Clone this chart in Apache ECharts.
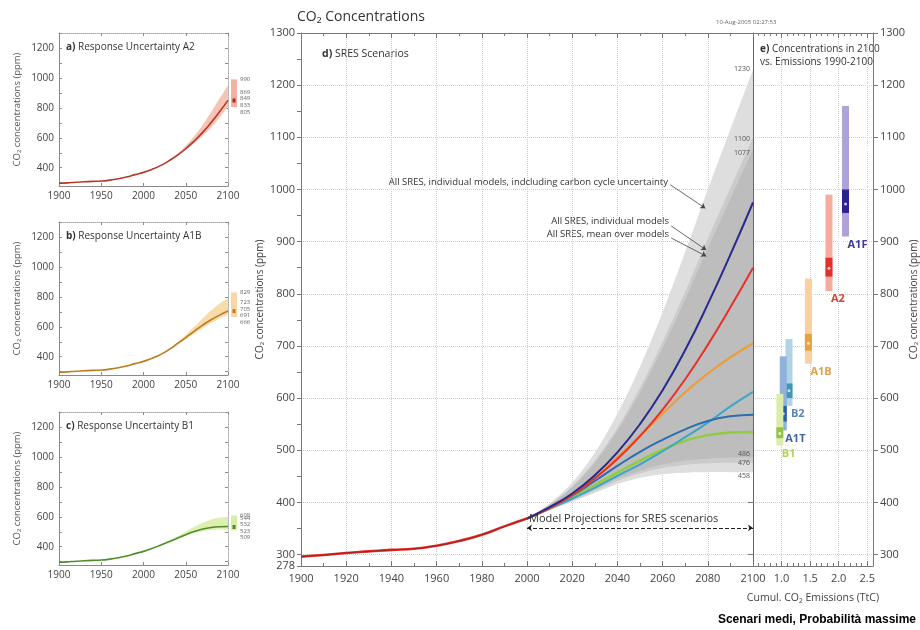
<!DOCTYPE html>
<html><head><meta charset="utf-8">
<script src="https://cdn.jsdelivr.net/npm/echarts@6/dist/echarts.min.js"></script>
<style>html,body{margin:0;padding:0;background:#fff}#c{width:920px;height:630px}</style>
</head><body><div id="c"></div>
<script>
// ---------------- DATA ----------------
const histYears = [1900,1910,1920,1930,1940,1950,1960,1970,1980,1990,2000];
const histCO2   = [296,299,303,306,309,311,317,326,338,354,369];
const projYears = [2000,2010,2020,2030,2040,2050,2060,2070,2080,2090,2100];
const A1F = [369,391,417,452,496,550,615,692,780,875,975];
const A2  = [369,389,414,446,483,527,578,636,702,774,850];
const A1B = [369,390,414,447,487,528,570,611,647,678,705];
const A1T = [369,390,413,441,470,497,520,540,556,565,568];
const B2  = [369,388,407,428,451,473,498,525,553,584,612];
const B1  = [369,388,410,433,457,480,501,518,529,534,535];
// envelopes (main panel)
const outerHi = [369,398,438,495,570,660,765,880,1000,1115,1230];
const midHi   = [369,396,431,480,543,620,708,804,906,1003,1100];
const innerHi = [369,395,429,476,537,611,696,789,887,982,1077];
const innerLo = [369,387,405,425,445,461,473,480,484,486,486];
const midLo   = [369,386,403,422,441,456,466,472,475,476,476];
const outerLo = [369,385,401,418,435,447,454,457,458,458,458];
const envTopLabels = ['1230','1100','1077'];
const envTopValues = [1230,1100,1077];
const envBotLabels = ['486','476','458'];
const envBotValues = [486,476,458];
// response uncertainty bands (left panels)
const aHi = [369,391,417,451,494,547,611,686,772,862,950];
const aLo = [369,388,412,442,478,518,562,612,668,735,810];
const bHi = [369,391,417,452,495,545,600,655,710,755,790];
const bLo = [369,388,411,441,478,516,553,590,625,655,680];
const cHi = [369,390,414,441,470,502,533,560,582,595,600];
const cLo = [369,387,408,430,452,473,490,503,511,515,515];
// 2100 ranges in left panels: [hi, upper-mid, mid, lower-mid, lo]
const aRange = [990,869,849,833,805];
const bRange = [829,723,705,691,666];
const cRange = [608,544,532,523,509];
// panel e: concentration in 2100 vs cumulative emissions
const eNames = ['A1F','A2','A1B','B2','A1T','B1'];
const eEmis  = [2.12,1.83,1.47,1.13,1.03,0.97];
const eLo    = [910,805,666,585,538,509];
const eHi    = [1160,990,829,713,680,608];
const eDLo   = [955,833,691,600,555,523];
const eDHi   = [1000,869,723,628,585,544];
const eMid   = [972,849,705,614,570,532];
const eCircX = [2.48,2.28,2.08,2.03,1.92,1.75,1.70,1.68,1.65,1.63,1.57,1.55,1.33,1.32,1.32,1.28,0.83,0.77];
const eCircY = [1078,1022,957,903,867,820,809,805,784,776,748,731,686,680,667,657,506,485];
// tick labels
const mainYLabels = [278,300,400,500,600,700,800,900,1000,1100,1200,1300];
const mainYTicks  = [278,300,350,400,450,500,550,600,650,700,750,800,850,900,950,1000,1050,1100,1150,1200,1250,1300];
const gridYVals   = [300,400,500,600,700,800,900,1000,1100,1200,1300];
const eYLabels    = [300,400,500,600,700,800,900,1000,1100,1200,1300];
const smallYLabels= [400,600,800,1000,1200];
const smallYTicks = [300,400,500,600,700,800,900,1000,1100,1200,1300];

// ---------------- COLORS / STYLE ----------------
const F = "'Open Sans', 'Noto Sans', sans-serif";
const AX = '#8a8a8a';
const colors = {A1F:'#2a2a8e', A2:'#e8302a', A1B:'#f39a2e', A1T:'#2e6db0', B2:'#3ba6c9', B1:'#8fcd3e', hist:'#e0302a'};
const eLight = ['#aea3d8','#f6ab9d','#f9d09e','#b0d3e6','#90b2da','#dcedab'];
const eDark  = ['#2c2290','#e0312b','#ec9f3a','#3f96b8','#2c5fa8','#94c445'];
const eLab   = ['#3d3a9a','#d0473a','#e3a04a','#5d86b5','#3f64a3','#b3d05a'];

const fullYears = histYears.concat(projYears.slice(1));
const full = arr => histCO2.concat(arr.slice(1));
const fmtInt = v => String(v);

// ---------------- AXES ----------------
const grids = [
  {left:59, top:33, width:169, height:153},
  {left:59, top:222, width:169, height:153},
  {left:59, top:412, width:169, height:153},
  {left:301, top:33, width:452, height:533},
  {left:753, top:33, width:126, height:533}
];
const xAxis = [], yAxis = [];
for (let g=0; g<3; g++) {
  xAxis.push({type:'value', gridIndex:g, min:1900, max:2100, interval:50,
    axisLine:{lineStyle:{color:AX}}, axisTick:{inside:true,length:3,lineStyle:{color:AX}},
    axisLabel:{fontSize:10,color:'#444',fontFamily:F,margin:5,formatter:fmtInt}, splitLine:{show:false}});
}
for (let g=0; g<3; g++) {
  xAxis.push({type:'value', gridIndex:g, position:'top', min:1900, max:2100, interval:50,
    axisLine:{lineStyle:{color:'#aaa',type:'dotted'}}, axisTick:{inside:true,length:3,lineStyle:{color:AX}},
    axisLabel:{show:false}, splitLine:{show:false}});
}
// main d
xAxis.push({type:'value', gridIndex:3, min:1900, max:2100, interval:20,
  axisLine:{lineStyle:{color:'#777'}}, axisTick:{inside:true,length:5,lineStyle:{color:'#777'}},
  minorTick:{show:true,splitNumber:2,length:3,lineStyle:{color:'#777'}},
  axisLabel:{fontSize:11,color:'#444',fontFamily:F,margin:7,formatter:fmtInt},
  splitLine:{show:true,lineStyle:{color:'#cfcfcf',type:'dotted'}}});
xAxis.push({type:'value', gridIndex:3, position:'top', min:1900, max:2100, interval:20,
  axisLine:{lineStyle:{color:'#777'}}, axisTick:{inside:true,length:5,lineStyle:{color:'#777'}},
  minorTick:{show:true,splitNumber:2,length:3,lineStyle:{color:'#777'}},
  axisLabel:{show:false}, splitLine:{show:false}});
// panel e
xAxis.push({type:'value', gridIndex:4, min:0.5, max:2.6, interval:0.5,
  name:'Cumul. CO₂ Emissions (TtC)', nameLocation:'middle', nameGap:27,
  nameTextStyle:{fontSize:10.5,color:'#444',fontFamily:F},
  axisLine:{lineStyle:{color:'#777'}}, axisTick:{inside:true,length:5,lineStyle:{color:'#777'}},
  minorTick:{show:true,splitNumber:5,length:3,lineStyle:{color:'#777'}},
  axisLabel:{fontSize:11,color:'#444',fontFamily:F,margin:7,showMinLabel:false,showMaxLabel:false,formatter:v=>v.toFixed(1)},
  splitLine:{show:true,lineStyle:{color:'#cfcfcf',type:'dotted'}}});
xAxis.push({type:'value', gridIndex:4, position:'top', min:0.5, max:2.6, interval:0.5,
  axisLine:{lineStyle:{color:'#777'}}, axisTick:{inside:true,length:5,lineStyle:{color:'#777'}},
  minorTick:{show:true,splitNumber:5,length:3,lineStyle:{color:'#777'}},
  axisLabel:{show:false}, splitLine:{show:false}});

for (let g=0; g<3; g++) {
  yAxis.push({type:'value', gridIndex:g, min:278, max:1300, position:'left',
    name:'CO₂ concentrations (ppm)', nameLocation:'middle', nameGap:37,
    nameTextStyle:{fontSize:9.5,color:'#555',fontFamily:F},
    axisLine:{show:true,lineStyle:{color:AX}},
    axisTick:{show:true,inside:true,length:3,customValues:smallYTicks,lineStyle:{color:AX}},
    axisLabel:{customValues:smallYLabels,fontSize:10,color:'#444',fontFamily:F,margin:5,formatter:fmtInt},
    splitLine:{show:false}});
}
for (let g=0; g<3; g++) {
  yAxis.push({type:'value', gridIndex:g, min:278, max:1300, position:'right',
    axisLine:{show:true,lineStyle:{color:'#aaa',type:'dotted'}},
    axisTick:{show:true,inside:true,length:3,customValues:smallYTicks,lineStyle:{color:AX}},
    axisLabel:{show:false}, splitLine:{show:false}});
}
yAxis.push({type:'value', gridIndex:3, min:278, max:1300, position:'left',
  name:'CO₂ concentrations (ppm)', nameLocation:'middle', nameGap:36,
  nameTextStyle:{fontSize:10,color:'#444',fontFamily:F},
  axisLine:{show:true,lineStyle:{color:'#777'}},
  axisTick:{show:true,inside:false,length:4,customValues:mainYTicks,lineStyle:{color:'#777'}},
  axisLabel:{customValues:mainYLabels,fontSize:11,color:'#444',fontFamily:F,margin:6,formatter:fmtInt},
  splitLine:{show:false}});
yAxis.push({type:'value', gridIndex:3, min:278, max:1300, position:'right',
  axisLine:{show:true,lineStyle:{color:'#666'}},
  axisTick:{show:true,inside:true,length:5,customValues:gridYVals,lineStyle:{color:'#777'}},
  axisLabel:{show:false},
  splitLine:{show:true,lineStyle:{color:'#cfcfcf',type:'dotted'}}});
yAxis.push({type:'value', gridIndex:4, min:278, max:1300, position:'right',
  name:'CO₂ concentrations (ppm)', nameLocation:'middle', nameGap:30, nameRotate:90,
  nameTextStyle:{fontSize:10,color:'#444',fontFamily:F},
  axisLine:{show:true,lineStyle:{color:'#777'}},
  axisTick:{show:true,inside:false,length:5,customValues:gridYVals,lineStyle:{color:'#777'}},
  axisLabel:{customValues:eYLabels,fontSize:11,color:'#444',fontFamily:F,margin:7,formatter:fmtInt},
  splitLine:{show:true,lineStyle:{color:'#cfcfcf',type:'dotted'}}});

const Y_MAIN = 6, Y_E = 8, X_MAIN = 6, X_E = 8;

// ---------------- SERIES ----------------
const series = [];
// Catmull-Rom smoothing in pixel space (rendering only)
function crSample(pts, steps) {
  const out = [];
  const n = pts.length;
  for (let i = 0; i < n - 1; i++) {
    const p0 = pts[Math.max(i-1,0)], p1 = pts[i], p2 = pts[i+1], p3 = pts[Math.min(i+2,n-1)];
    for (let s = 0; s < steps; s++) {
      const t = s/steps, t2 = t*t, t3 = t2*t;
      const f = k => 0.5*((2*p1[k]) + (-p0[k]+p2[k])*t + (2*p0[k]-5*p1[k]+4*p2[k]-p3[k])*t2 + (-p0[k]+3*p1[k]-3*p2[k]+p3[k])*t3);
      out.push([f(0), f(1)]);
    }
  }
  out.push(pts[n-1]);
  return out;
}
function band(xi, yi, xs, lo, hi, color, z) {
  series.push({type:'custom', xAxisIndex:xi, yAxisIndex:yi, silent:true, z:z||1,
    data: xs.map((x,i)=>[x, lo[i], hi[i]]), encode:{x:0, y:[1,2]},
    renderItem:function(params, api){
      if (params.dataIndex !== 0) return null;
      const up = crSample(xs.map((x,i)=>api.coord([x, hi[i]])), 8);
      const dn = crSample(xs.map((x,i)=>api.coord([x, lo[i]])), 8).reverse();
      return {type:'polygon', shape:{points: up.concat(dn)}, style:{fill:color}};
    }});
}
function line(xi, yi, xs, ys, color, width, z) {
  series.push({type:'line', xAxisIndex:xi, yAxisIndex:yi, silent:true, smooth:0.5, symbol:'none',
    data: xs.map((x,i)=>[x, ys[i]]), lineStyle:{color:color,width:width}, z:z||3});
}
function sideBar(xi, yi, rng, light, dark) {
  series.push({type:'custom', xAxisIndex:xi, yAxisIndex:yi, clip:false, silent:true, z:5,
    data:[[2100, rng[4], rng[0], rng[2]]],
    encode:{x:0, y:[1,2]},
    renderItem:function(params, api){
      const pHi = api.coord([2100, rng[0]]), pLo = api.coord([2100, rng[4]]), pM = api.coord([2100, rng[2]]);
      const x = pHi[0] + 3;
      const ch = [
        {type:'rect', shape:{x:x, y:pHi[1], width:6, height:pLo[1]-pHi[1]}, style:{fill:light}},
        {type:'rect', shape:{x:x+1.5, y:pM[1]-2, width:3, height:4}, style:{fill:dark}}
      ];
      const ys = rng.map(v => api.coord([2100, v])[1]);
      const cl = ys.slice(1); const mean = cl.reduce((a,b)=>a+b,0)/cl.length;
      const pos = [ys[0]].concat(cl.map((_,k)=> mean + (k-(cl.length-1)/2)*6.6));
      rng.forEach((v,k)=>{
        ch.push({type:'text', style:{text:String(v), x:x+9, y:pos[k], fill:'#666', fontSize:6, fontFamily:F, align:'left', verticalAlign:'middle'}});
      });
      return {type:'group', children:ch};
    }});
}

// left panels
band(0,0,projYears,aLo,aHi,'#f7c3b5');
line(0,0,fullYears,full(A2),'#b5392b',1.6);
sideBar(0,0,aRange,'#f5b0a2','#b5261c');
band(1,1,projYears,bLo,bHi,'#f8dbab');
line(1,1,fullYears,full(A1B),'#b97d1f',1.6);
sideBar(1,1,bRange,'#f9d6a3','#c67a12');
band(2,2,projYears,cLo,cHi,'#ddf0b2');
line(2,2,fullYears,full(B1),'#4f8c2b',1.6);
sideBar(2,2,cRange,'#d7eca6','#4f8c2b');

// main envelope
band(X_MAIN,Y_MAIN,projYears,outerLo,outerHi,'#dedede',1);
band(X_MAIN,Y_MAIN,projYears,midLo,midHi,'#cbcbcb',1);
band(X_MAIN,Y_MAIN,projYears,innerLo,innerHi,'#bdbdbd',1);
// historical
line(X_MAIN,Y_MAIN,histYears,histCO2,colors.hist,2.6,4);
line(X_MAIN,Y_MAIN,histYears,histCO2,'#8e1b17',0.8,5);
// scenarios
line(X_MAIN,Y_MAIN,projYears,B1,colors.B1,2.4,4);
line(X_MAIN,Y_MAIN,projYears,B2,colors.B2,2,4);
line(X_MAIN,Y_MAIN,projYears,A1T,colors.A1T,2,4);
line(X_MAIN,Y_MAIN,projYears,A1B,colors.A1B,2,4);
line(X_MAIN,Y_MAIN,projYears,A2,colors.A2,2,4);
line(X_MAIN,Y_MAIN,projYears,A1F,colors.A1F,2,4);

// annotations in main panel
series.push({type:'line', xAxisIndex:X_MAIN, yAxisIndex:Y_MAIN, data:[], silent:true, z:6,
  markLine:{silent:true, symbol:['none','arrow'], symbolSize:5, animation:false,
    lineStyle:{color:'#444',width:0.8,type:'solid'}, label:{show:false},
    data:[
      [{coord:[2063.4,1009]},{coord:[2078.9,964]}],
      [{coord:[2063.8,930]},{coord:[2079.3,884]}],
      [{coord:[2063.8,907]},{coord:[2079.3,872]}],
      [{coord:[2000,351], symbol:'arrow', lineStyle:{type:'dashed',color:'#222',width:1}},
       {coord:[2100,351], symbol:'arrow'}]
    ]}});

// panel e bars
series.push({type:'custom', xAxisIndex:X_E, yAxisIndex:Y_E, silent:true, z:5, clip:false,
  data: eNames.map((n,i)=>[eEmis[i], eLo[i], eHi[i], eDLo[i], eDHi[i], eMid[i]]),
  encode:{x:0, y:[1,2]},
  renderItem:function(params, api){
    const i = params.dataIndex;
    const xv = api.value(0);
    const pHi = api.coord([xv, api.value(2)]), pLo = api.coord([xv, api.value(1)]);
    const dHi = api.coord([xv, api.value(4)]), dLo = api.coord([xv, api.value(3)]);
    const pM = api.coord([xv, api.value(5)]);
    const w = 7;
    return {type:'group', children:[
      {type:'rect', shape:{x:pHi[0]-w/2, y:pHi[1], width:w, height:pLo[1]-pHi[1]}, style:{fill:eLight[i]}},
      {type:'rect', shape:{x:dHi[0]-w/2, y:dHi[1], width:w, height:dLo[1]-dHi[1]}, style:{fill:eDark[i]}},
      {type:'circle', shape:{cx:pM[0], cy:pM[1], r:1.5}, style:{fill:'rgba(255,255,255,0.75)'}},
      {type:'text', style:{text:eNames[i], x:pLo[0]+2, y:pLo[1]+8, fill:eLab[i], fontSize:11, fontWeight:'bold', fontFamily:F, align:'left', verticalAlign:'middle'}}
    ]};
  }});
series.push({type:'scatter', xAxisIndex:X_E, yAxisIndex:Y_E, silent:true, z:4,
  data: eCircX.map((x,i)=>[x, eCircY[i]]), symbol:'emptyCircle', symbolSize:4,
  itemStyle:{color:'#fff', borderColor:'#9a9a9a', borderWidth:0.8}});

// envelope value labels
series.push({type:'custom', xAxisIndex:X_MAIN, yAxisIndex:Y_MAIN, silent:true, z:6, clip:false,
  data: envTopValues.concat(envBotValues).map(v=>[2100, v]),
  encode:{x:0,y:1},
  renderItem:function(params, api){
    const i = params.dataIndex;
    const p = api.coord([2100, api.value(1)]);
    const txt = envTopLabels.concat(envBotLabels)[i];
    const dy = i < 3 ? [-1, 2, 4][i] : [-4, 0, 4][i-3];
    return {type:'text', style:{text:txt, x:p[0]-3, y:p[1]+dy, fill:'#555', fontSize:7, fontFamily:F, align:'right', verticalAlign:'middle'}};
  }});

// ---------------- GRAPHIC TEXT ----------------
const rb = {b:{fontWeight:'bold',fontSize:10,fontFamily:F,fill:'#333'}};
const graphic = [
  {type:'text', left:297, top:10, style:{text:'CO₂ Concentrations', fontSize:14, fontFamily:F, fill:'#333'}},
  {type:'text', left:716, top:19, style:{text:'10-Aug-2005 02:27:53', fontSize:6, fontFamily:F, fill:'#666'}},
  {type:'text', left:322, top:49, style:{text:'{b|d)} SRES Scenarios', fontSize:10.5, fontFamily:F, fill:'#333', rich:{b:{fontWeight:'bold',fontSize:10.5,fontFamily:F,fill:'#333'}}}},
  {type:'text', left:760, top:43, style:{text:'{b|e)} Concentrations in 2100\nvs. Emissions 1990-2100', fontSize:10, lineHeight:13, fontFamily:F, fill:'#333', rich:rb}},
  {type:'text', left:66, top:42, style:{text:'{b|a)} Response Uncertainty A2', fontSize:10, fontFamily:F, fill:'#333', rich:rb}},
  {type:'text', left:66, top:231, style:{text:'{b|b)} Response Uncertainty A1B', fontSize:10, fontFamily:F, fill:'#333', rich:rb}},
  {type:'text', left:66, top:421, style:{text:'{b|c)} Response Uncertainty B1', fontSize:10, fontFamily:F, fill:'#333', rich:rb}},
  {type:'text', right:252, top:177, style:{text:'All SRES, individual models, indcluding carbon cycle uncertainty', fontSize:9.5, fontFamily:F, fill:'#333', align:'right'}},
  {type:'text', right:251, top:216, style:{text:'All SRES, individual models', fontSize:9.5, fontFamily:F, fill:'#333', align:'right'}},
  {type:'text', right:251, top:229, style:{text:'All SRES, mean over models', fontSize:9.5, fontFamily:F, fill:'#333', align:'right'}},
  {type:'text', left:529, top:513, z:10, style:{text:'Model Projections for SRES scenarios', fontSize:11, fontFamily:F, fill:'#333'}},
  {type:'text', right:4, top:614, style:{text:'Scenari medi, Probabilità massime', fontSize:12, fontWeight:'bold', fontFamily:"'Liberation Sans', Arial, sans-serif", fill:'#000'}}
];

const chart = echarts.init(document.getElementById('c'), null, {renderer:'canvas'});
chart.setOption({
  animation:false,
  backgroundColor:'#fff',
  grid: grids, xAxis: xAxis, yAxis: yAxis, series: series, graphic: graphic
});
</script>
</body></html>
